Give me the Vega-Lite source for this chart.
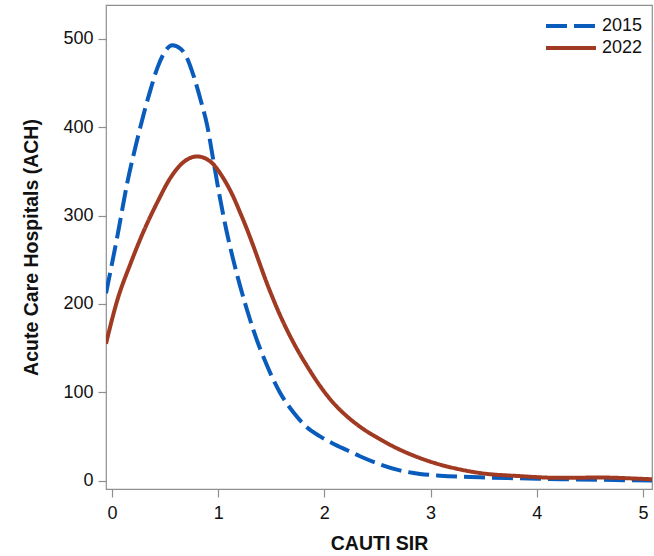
{
  "$schema": "https://vega.github.io/schema/vega-lite/v6.json",
  "width": 546,
  "height": 484,
  "autosize": {"type": "none"},
  "padding": {"left": 106, "top": 5, "right": 2, "bottom": 67},
  "config": {
    "font": "Liberation Sans",
    "view": {"stroke": "#8f8f8f", "strokeWidth": 1.2},
    "axis": {
      "domain": false,
      "grid": false,
      "tickColor": "#8f8f8f",
      "tickSize": 8,
      "tickWidth": 1.2,
      "labelFont": "Liberation Sans",
      "labelFontSize": 18,
      "labelColor": "#111111",
      "titleFont": "Liberation Sans",
      "titleFontSize": 19.5,
      "titleFontWeight": "bold",
      "titleColor": "#111111"
    }
  },
  "data": {
    "values": [
      {"sir": -0.056, "ach": 212, "year": "2015"},
      {"sir": 0.05, "ach": 276, "year": "2015"},
      {"sir": 0.144, "ach": 337, "year": "2015"},
      {"sir": 0.238, "ach": 386, "year": "2015"},
      {"sir": 0.301, "ach": 416, "year": "2015"},
      {"sir": 0.364, "ach": 443, "year": "2015"},
      {"sir": 0.427, "ach": 467, "year": "2015"},
      {"sir": 0.49, "ach": 484, "year": "2015"},
      {"sir": 0.568, "ach": 493, "year": "2015"},
      {"sir": 0.646, "ach": 489, "year": "2015"},
      {"sir": 0.708, "ach": 478, "year": "2015"},
      {"sir": 0.772, "ach": 457, "year": "2015"},
      {"sir": 0.835, "ach": 431, "year": "2015"},
      {"sir": 0.897, "ach": 402, "year": "2015"},
      {"sir": 0.954, "ach": 363, "year": "2015"},
      {"sir": 1.017, "ach": 320, "year": "2015"},
      {"sir": 1.08, "ach": 282, "year": "2015"},
      {"sir": 1.14, "ach": 251, "year": "2015"},
      {"sir": 1.205, "ach": 221, "year": "2015"},
      {"sir": 1.27, "ach": 194, "year": "2015"},
      {"sir": 1.33, "ach": 171, "year": "2015"},
      {"sir": 1.457, "ach": 131, "year": "2015"},
      {"sir": 1.58, "ach": 100, "year": "2015"},
      {"sir": 1.71, "ach": 77, "year": "2015"},
      {"sir": 1.83, "ach": 61, "year": "2015"},
      {"sir": 1.96, "ach": 50, "year": "2015"},
      {"sir": 2.08, "ach": 42, "year": "2015"},
      {"sir": 2.21, "ach": 34.5, "year": "2015"},
      {"sir": 2.335, "ach": 27.5, "year": "2015"},
      {"sir": 2.52, "ach": 18.5, "year": "2015"},
      {"sir": 2.71, "ach": 11.5, "year": "2015"},
      {"sir": 2.9, "ach": 7.5, "year": "2015"},
      {"sir": 3.09, "ach": 5.5, "year": "2015"},
      {"sir": 3.465, "ach": 3.6, "year": "2015"},
      {"sir": 3.84, "ach": 2.5, "year": "2015"},
      {"sir": 4.22, "ach": 1.5, "year": "2015"},
      {"sir": 4.6, "ach": 0.8, "year": "2015"},
      {"sir": 5.085, "ach": 0, "year": "2015"},
      {"sir": -0.056, "ach": 155, "year": "2022"},
      {"sir": 0.05, "ach": 204, "year": "2022"},
      {"sir": 0.176, "ach": 246, "year": "2022"},
      {"sir": 0.301, "ach": 283, "year": "2022"},
      {"sir": 0.427, "ach": 315, "year": "2022"},
      {"sir": 0.552, "ach": 343, "year": "2022"},
      {"sir": 0.678, "ach": 361, "year": "2022"},
      {"sir": 0.803, "ach": 367, "year": "2022"},
      {"sir": 0.929, "ach": 361, "year": "2022"},
      {"sir": 1.04, "ach": 344, "year": "2022"},
      {"sir": 1.14, "ach": 322, "year": "2022"},
      {"sir": 1.205, "ach": 304, "year": "2022"},
      {"sir": 1.27, "ach": 285, "year": "2022"},
      {"sir": 1.33, "ach": 266, "year": "2022"},
      {"sir": 1.39, "ach": 246, "year": "2022"},
      {"sir": 1.457, "ach": 224, "year": "2022"},
      {"sir": 1.52, "ach": 205, "year": "2022"},
      {"sir": 1.58, "ach": 188, "year": "2022"},
      {"sir": 1.65, "ach": 170, "year": "2022"},
      {"sir": 1.71, "ach": 156, "year": "2022"},
      {"sir": 1.77, "ach": 143, "year": "2022"},
      {"sir": 1.83, "ach": 131, "year": "2022"},
      {"sir": 1.96, "ach": 107, "year": "2022"},
      {"sir": 2.08, "ach": 88.5, "year": "2022"},
      {"sir": 2.21, "ach": 73, "year": "2022"},
      {"sir": 2.335, "ach": 61, "year": "2022"},
      {"sir": 2.52, "ach": 47, "year": "2022"},
      {"sir": 2.71, "ach": 35, "year": "2022"},
      {"sir": 2.9, "ach": 25.5, "year": "2022"},
      {"sir": 3.09, "ach": 18, "year": "2022"},
      {"sir": 3.28, "ach": 12.5, "year": "2022"},
      {"sir": 3.465, "ach": 8.5, "year": "2022"},
      {"sir": 3.84, "ach": 5, "year": "2022"},
      {"sir": 4.22, "ach": 3, "year": "2022"},
      {"sir": 4.6, "ach": 3.4, "year": "2022"},
      {"sir": 4.97, "ach": 2, "year": "2022"},
      {"sir": 5.085, "ach": 1.4, "year": "2022"}
    ]
  },
  "mark": {"type": "line", "strokeWidth": 4, "interpolate": "monotone", "clip": true, "strokeCap": "butt"},
  "encoding": {
    "x": {
      "field": "sir",
      "type": "quantitative",
      "title": "CAUTI SIR",
      "scale": {"domain": [-0.056, 5.085], "nice": false, "zero": false},
      "axis": {"values": [0, 1, 2, 3, 4, 5], "labelPadding": 7, "titlePadding": 12, "format": "d"}
    },
    "y": {
      "field": "ach",
      "type": "quantitative",
      "title": "Acute Care Hospitals (ACH)",
      "scale": {"domain": [-9.6, 538.5], "nice": false, "zero": false},
      "axis": {"values": [0, 100, 200, 300, 400, 500], "labelPadding": 5, "titlePadding": 21}
    },
    "color": {
      "field": "year",
      "type": "nominal",
      "scale": {"domain": ["2015", "2022"], "range": ["#0a5cbc", "#a03a22"]},
      "legend": {
        "title": null,
        "orient": "top-right",
        "offset": 9,
        "padding": 0,
        "symbolType": "M-1,0H4",
        "symbolSize": 400,
        "symbolStrokeWidth": 4,
        "labelFontSize": 18,
        "labelColor": "#111111",
        "labelOffset": 34,
        "rowPadding": 1
      }
    },
    "strokeDash": {
      "field": "year",
      "type": "nominal",
      "scale": {"domain": ["2015", "2022"], "range": [[21, 7], [1, 0]]},
      "legend": {
        "title": null,
        "orient": "top-right",
        "offset": 9,
        "padding": 0,
        "symbolType": "M-1,0H4",
        "symbolSize": 400,
        "symbolStrokeWidth": 4,
        "labelFontSize": 18,
        "labelColor": "#111111",
        "labelOffset": 34,
        "rowPadding": 1
      }
    }
  }
}
